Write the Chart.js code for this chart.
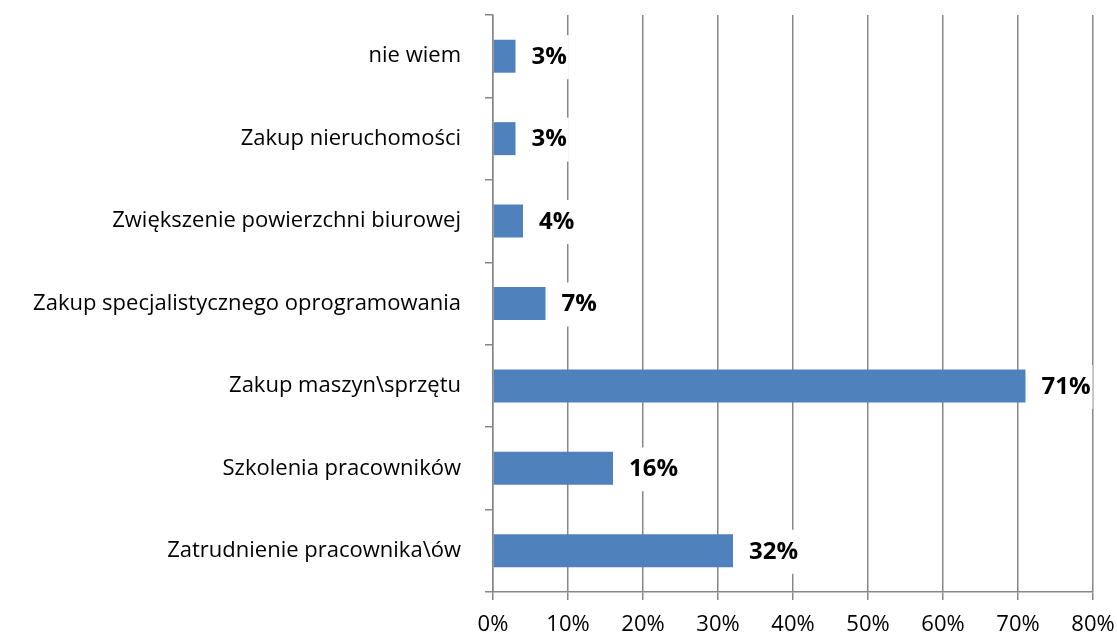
<!DOCTYPE html>
<html>
<head>
<meta charset="utf-8">
<script src="https://cdn.jsdelivr.net/npm/chart.js@4/dist/chart.umd.min.js"></script>
<style>
  html, body { margin: 0; padding: 0; background: #ffffff; }
  #wrap { width: 1117px; height: 637px; }
</style>
</head>
<body>
<div id="wrap"><canvas id="c" width="1117" height="637"></canvas></div>
<script>
// Planned uses of investment funds (share of answers, %)
const categories = [
  'nie wiem',
  'Zakup nieruchomości',
  'Zwiększenie powierzchni biurowej',
  'Zakup specjalistycznego oprogramowania',
  'Zakup maszyn\\sprzętu',
  'Szkolenia pracowników',
  'Zatrudnienie pracownika\\ów'
];
const shares = [3, 3, 4, 7, 71, 16, 32];
const axisMax = 80;
const axisStep = 10;

const FONT = '"Open Sans", sans-serif';
const GRID = '#878787';

// Bold value labels at the end of each bar, on a white backing box
const valueLabels = {
  id: 'valueLabels',
  afterDatasetsDraw(chart) {
    const ctx = chart.ctx;
    const meta = chart.getDatasetMeta(0);
    ctx.save();
    ctx.font = 'bold 24px ' + FONT;
    ctx.textBaseline = 'middle';
    ctx.textAlign = 'left';
    meta.data.forEach((bar, i) => {
      const txt = shares[i] + '%';
      const w = ctx.measureText(txt).width;
      const x = bar.x + 16;
      const y = bar.y + 1;
      ctx.fillStyle = '#ffffff';
      ctx.fillRect(x - 4, y - 22, w + 6, 44);
      ctx.fillStyle = '#000000';
      ctx.fillText(txt, x, y);
    });
    ctx.restore();
  }
};

new Chart(document.getElementById('c'), {
  type: 'bar',
  data: {
    labels: categories,
    datasets: [{
      data: shares,
      backgroundColor: '#4F81BD',
      borderWidth: 0,
      barPercentage: 0.4,
      categoryPercentage: 1.0
    }]
  },
  options: {
    indexAxis: 'y',
    responsive: false,
    animation: false,
    layout: { padding: { top: 15, right: 24, left: 0, bottom: 0 } },
    plugins: {
      legend: { display: false },
      tooltip: { enabled: false }
    },
    scales: {
      x: {
        min: 0,
        max: axisMax,
        ticks: {
          stepSize: axisStep,
          color: '#000000',
          font: { family: FONT, size: 22 },
          padding: 12,
          callback: v => v + '%'
        },
        grid: {
          color: GRID,
          lineWidth: 1.5,
          tickLength: 8,
          tickColor: GRID,
          drawOnChartArea: true
        },
        border: { color: GRID, width: 1.5 },
        afterFit(scale) {
          scale.height = 45;
          scale.paddingLeft = 0;
          scale.paddingRight = 0;
        }
      },
      y: {
        ticks: {
          color: '#000000',
          font: { family: FONT, size: 22 },
          padding: 24
        },
        grid: {
          offset: true,
          drawOnChartArea: false,
          tickLength: 8,
          color: GRID,
          lineWidth: 1.5
        },
        border: { color: GRID, width: 1.5 },
        afterFit(scale) {
          scale.width = 493;
          scale.paddingTop = 0;
          scale.paddingBottom = 0;
        }
      }
    }
  },
  plugins: [valueLabels]
});
</script>
</body>
</html>
